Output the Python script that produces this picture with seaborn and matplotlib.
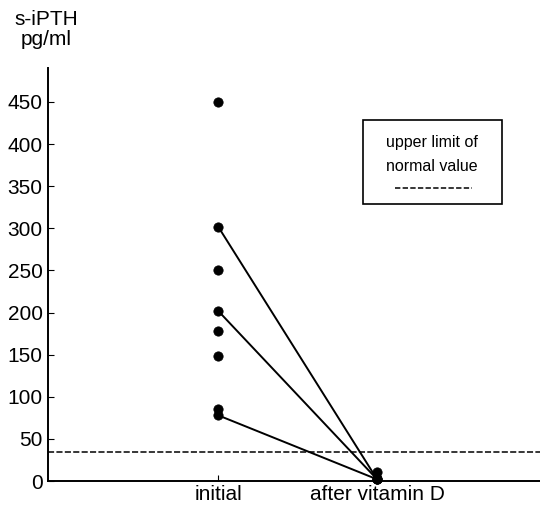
import pandas as pd
import matplotlib
matplotlib.use("Agg")
import matplotlib.pyplot as plt
from matplotlib.patches import Rectangle
from matplotlib.lines import Line2D
import seaborn as sns

# data
categories = ["initial", "after vitamin D"]
initial_only = [450, 250, 178, 148, 86]
paired_initial = [302, 202, 78]
paired_after = [2, 2, 2]
after_only = [11]
upper_limit = 35

sns.set_style("ticks")
plt.rcParams["font.family"] = ["Liberation Sans", "DejaVu Sans"]
for key in ["text.color", "axes.labelcolor", "xtick.color", "ytick.color", "axes.edgecolor"]:
    plt.rcParams[key] = "black"

fig = plt.figure(figsize=(5.4, 5.09), dpi=100)
ax = fig.add_axes([0.089, 0.055, 0.911, 0.811])

# long table for the paired lines
rows = []
for i, (a, b) in enumerate(zip(paired_initial, paired_after)):
    rows.append({"patient": i, "x": 0, "value": a})
    rows.append({"patient": i, "x": 1, "value": b})
paired = pd.DataFrame(rows)

points = pd.DataFrame({
    "x": [0] * len(initial_only) + [1] * len(after_only),
    "value": initial_only + after_only,
})

sns.lineplot(data=paired, x="x", y="value", units="patient", estimator=None,
             color="black", linewidth=1.4, ax=ax, legend=False)
sns.scatterplot(data=pd.concat([paired[["x", "value"]], points]), x="x", y="value",
                color="black", s=45, edgecolor="black", zorder=3, ax=ax,
                legend=False, clip_on=False)

ax.axhline(upper_limit, color="black", linestyle=(0, (4, 1.5)), linewidth=1.1)

ax.set_xlim(-1.07, 2.025)
ax.set_ylim(0, 490)
ax.set_xticks([0, 1])
ax.set_xticklabels(categories, fontsize=15)
ax.set_yticks(range(0, 451, 50))
ax.tick_params(axis="y", direction="in", length=4, labelsize=15, pad=4)
ax.tick_params(axis="x", direction="in", length=4, pad=3)
ax.set_xlabel("")
ax.set_ylabel("")
sns.despine(ax=ax)
for s in ["left", "bottom"]:
    ax.spines[s].set_linewidth(1.4)

fig.text(0.085, 0.942, "s-iPTH\npg/ml", ha="center", va="center",
         fontsize=15, linespacing=1.1)

# legend box for the dashed reference line
ax.add_patch(Rectangle((0.640, 0.671), 0.283, 0.203, transform=ax.transAxes,
                       facecolor="white", edgecolor="black", linewidth=1.2, zorder=4))
ax.text(0.78, 0.821, "upper limit of", transform=ax.transAxes, ha="center",
        va="center", fontsize=11.5, zorder=5)
ax.text(0.78, 0.763, "normal value", transform=ax.transAxes, ha="center",
        va="center", fontsize=11.5, zorder=5)
ax.add_line(Line2D([0.705, 0.862], [0.709, 0.709], transform=ax.transAxes,
                   color="black", linestyle=(0, (3.5, 1.5)), linewidth=1.1, zorder=5))

fig.savefig("out.png", dpi=100)
